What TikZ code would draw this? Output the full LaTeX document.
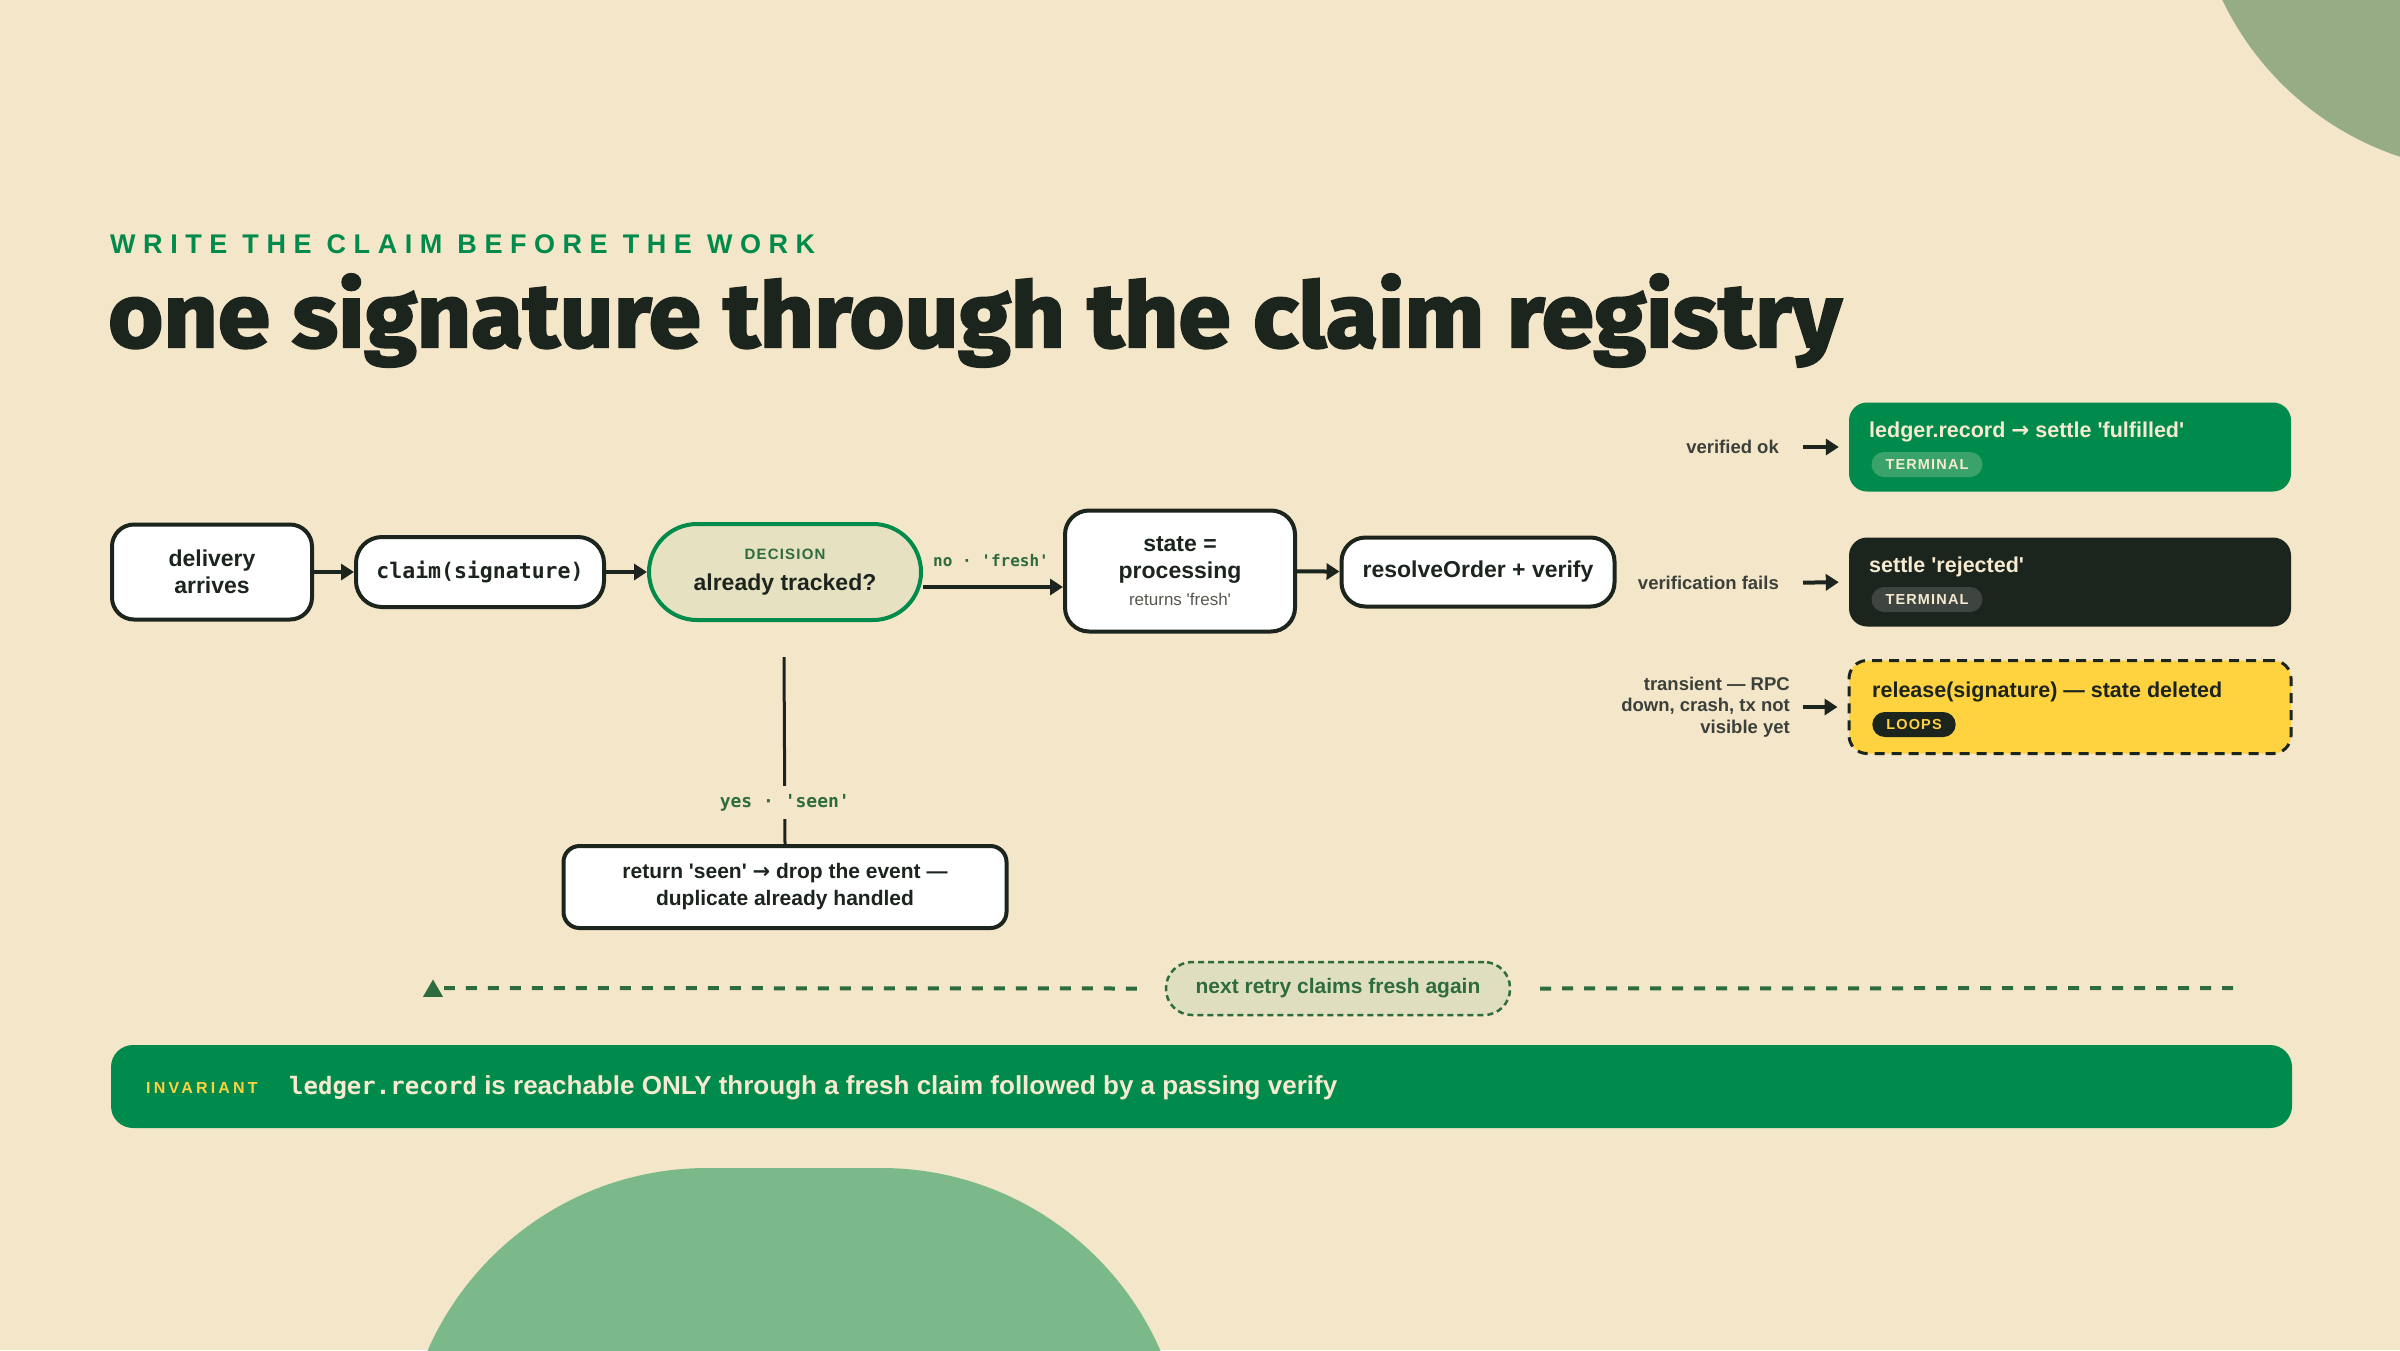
\documentclass[tikz,border=0pt]{standalone}
\usepackage{fontspec}
\setmainfont{Liberation Sans}[Ligatures=TeXOff]
\setmonofont{DejaVu Sans Mono}
\newfontfamily\headfont{Fira Sans}[FakeStretch=1.05,FakeBold=2.5]
\newfontfamily\kickerfont{Liberation Sans}[LetterSpace=28,Ligatures=TeXOff]
\newfontfamily\tagfont{Liberation Sans}[LetterSpace=8,Ligatures=TeXOff]
\newfontfamily\invfont{Liberation Sans}[LetterSpace=20,Ligatures=TeXOff]
\newfontfamily\symfont{DejaVu Sans}
\newcommand{\toarrow}{{\symfont\bfseries →}}
\usetikzlibrary{arrows.meta,shapes.geometric}
\definecolor{paper}{HTML}{F4E6C8}
\definecolor{ink}{HTML}{1C241E}
\definecolor{brand}{HTML}{008A4B}
\definecolor{deepgreen}{HTML}{2E6B3E}
\definecolor{decfill}{HTML}{E6E1C1}
\definecolor{retryfill}{HTML}{DFDFBF}
\definecolor{sage}{HTML}{95AC85}
\definecolor{leaf}{HTML}{7CB98A}
\definecolor{sun}{HTML}{FFD23F}
\definecolor{cream}{HTML}{F6EAD0}
\definecolor{muted}{HTML}{55594F}
\definecolor{notegray}{HTML}{3B403B}
\definecolor{taggreen}{HTML}{3AA36B}
\definecolor{tagdark}{HTML}{3E4440}
\tikzset{
  box/.style={draw=ink, line width=4pt, fill=white, rounded corners=22pt,
    align=center, text=ink, inner sep=0pt,
    font=\fontsize{23}{27}\selectfont\bfseries},
  decision/.style={box, draw=brand, fill=decfill, rounded corners=48pt,
    minimum width=272pt, minimum height=96pt},
  arr/.style={line width=4pt, draw=ink, -{Triangle[length=13pt,width=16pt]}},
  flowtag/.style={inner sep=8pt, text=deepgreen,
    font=\ttfamily\bfseries\fontsize{16}{18}\selectfont},
  endbox/.style={rounded corners=18pt, minimum width=442pt,
    minimum height=89pt, inner sep=0pt},
  endtext/.style={anchor=west, inner sep=0pt,
    font=\fontsize{21.5}{25}\selectfont\bfseries},
  tagpill/.style={rounded corners=12.5pt, minimum height=25pt,
    inner xsep=14pt, inner ysep=0pt,
    font=\tagfont\bfseries\fontsize{14.5}{16}\selectfont},
  sidenote/.style={anchor=east, inner sep=0pt, text=notegray,
    font=\fontsize{18.5}{21.5}\selectfont\bfseries},
  loopline/.style={line width=4pt, draw=deepgreen, dash pattern=on 11pt off 11pt},
  retry/.style={draw=deepgreen, line width=2.5pt, dash pattern=on 6pt off 4pt,
    fill=retryfill, rounded corners=26pt, minimum width=344pt,
    minimum height=53pt, text=deepgreen,
    font=\fontsize{21}{25}\selectfont\bfseries},
  looptip/.style={regular polygon, regular polygon sides=3, fill=deepgreen,
    inner sep=0pt, minimum size=23pt}
}
\begin{document}
\begin{tikzpicture}[x=1pt,y=-1pt]
  \useasboundingbox (0,0) rectangle (2400,1350);
  \fill[paper] (0,0) rectangle (2400,1350);
  \begin{scope}
    \clip (0,0) rectangle (2400,1350);
    \fill[sage] (2495,-130) circle[radius=302pt];
    \fill[leaf, rounded corners=305pt] (402,1168) rectangle (1186,1900);
  \end{scope}

  \node[anchor=base west, inner sep=0pt, text=brand,
    font=\kickerfont\bfseries\fontsize{27}{30}\selectfont]
    (kicker) at (110,253) {WRITE THE CLAIM BEFORE THE WORK};
  \node[anchor=base west, inner sep=0pt, text=ink,
    font=\headfont\bfseries\fontsize{90}{96}\selectfont]
    (title) at (108,347) {one signature through the claim registry};

  \node[box, minimum width=200pt, minimum height=95pt] (arrive) at (212,572) {delivery\\arrives};
  \node[box, minimum width=248pt, minimum height=70pt, rounded corners=26pt,
    font=\ttfamily\bfseries\fontsize{21.5}{25}\selectfont] (claim) at (480,572) {claim(signature)};
  \node[decision] (tracked) at (785,572)
    {{\tagfont\fontsize{15}{15}\selectfont\color{deepgreen}DECISION}\\[4pt]already tracked?};
  \node[box, minimum width=230pt, minimum height=121pt, rounded corners=24pt] (state) at (1180,571)
    {state =\\processing\\{\fontsize{17}{20}\selectfont\mdseries\color{muted}returns 'fresh'}};
  \node[box, minimum width=273pt, minimum height=69pt, rounded corners=24pt] (resolve) at (1478,572)
    {resolveOrder + verify};
  \node[box, minimum width=443pt, minimum height=82pt, rounded corners=16pt,
    font=\fontsize{21}{27}\selectfont\bfseries] (seen) at (785,887)
    {return 'seen' \toarrow{} drop the event —\\duplicate already handled};

  \node[flowtag] (freshTag) at (991,561) {no · 'fresh'};
  \coordinate (freshOut) at ([yshift=-15pt]tracked.east);
  \coordinate (seenStart) at (784,657);

  \draw[arr] (arrive) -- (claim);
  \draw[arr] (claim) -- (tracked);
  \draw[arr] (freshOut) -- (freshOut -| state.west);
  \draw[arr] (state) -- (resolve);
  \draw[line width=3pt, draw=ink] (seenStart) -- node[pos=0.78, flowtag, fill=paper,
    font=\ttfamily\bfseries\fontsize{18}{20}\selectfont] (seenTag) {yes · 'seen'} (seen.north);

  \node[endbox, fill=brand] (fulfilled) at (2070,447) {};
  \node[endtext, text=cream] (fulfilledText) at (1869,432) {ledger.record \toarrow{} settle 'fulfilled'};
  \node[tagpill, fill=taggreen, text=cream] (fulfilledTag) at (1927,464.5) {TERMINAL};
  \node[endbox, fill=ink] (rejected) at (2070,582) {};
  \node[endtext, text=cream] (rejectedText) at (1869,567) {settle 'rejected'};
  \node[tagpill, fill=tagdark, text=cream] (rejectedTag) at (1927,599.5) {TERMINAL};
  \node[endbox, fill=sun, draw=ink, line width=3pt, dash pattern=on 10pt off 7pt,
    minimum height=93pt] (release) at (2070,707) {};
  \node[endtext, text=ink] (releaseText) at (1872,692) {release(signature) — state deleted};
  \node[tagpill, fill=ink, text=sun] (releaseTag) at (1914,724.5) {LOOPS};

  \node[sidenote] (okNote) at (1779,447) {verified ok};
  \node[sidenote] (failNote) at (1779,583) {verification fails};
  \node[sidenote, align=right] (transientNote) at (1790,707) {transient — RPC\\down, crash, tx not\\visible yet};
  \draw[arr, shorten <=24pt, shorten >=10pt] (okNote.east) -- (fulfilled.west);
  \draw[arr, shorten <=24pt, shorten >=10pt] (failNote.east) -- (rejected.west);
  \draw[arr, shorten <=13pt, shorten >=10pt] (transientNote.east) -- (release.west);

  \node[retry] (retry) at (1338,988.5) {next retry claims fresh again};
  \node[looptip] (loopTip) at (433,991) {};
  \coordinate (loopFrom) at (2233,988);
  \coordinate (loopTo) at (444,988);
  \draw[loopline] (loopFrom) -- ([xshift=24pt]retry.east);
  \draw[loopline] ([xshift=-28pt]retry.west) -- (loopTo);

  \node[fill=brand, rounded corners=22pt, minimum width=2181pt, minimum height=83pt,
    inner sep=0pt] (invariant) at (1201.5,1086.5) {};
  \node[anchor=west, inner sep=0pt, text=sun,
    font=\invfont\bfseries\fontsize{16}{18}\selectfont] (invariantTag) at (146,1088) {INVARIANT};
  \node[anchor=west, inner sep=0pt, text=cream, font=\fontsize{26}{29}\selectfont\bfseries]
    (invariantText) at (289,1088)
    {{\ttfamily\fontsize{24}{28}\selectfont ledger.record} is reachable ONLY through a fresh claim followed by a passing verify};
\end{tikzpicture}
\end{document}
